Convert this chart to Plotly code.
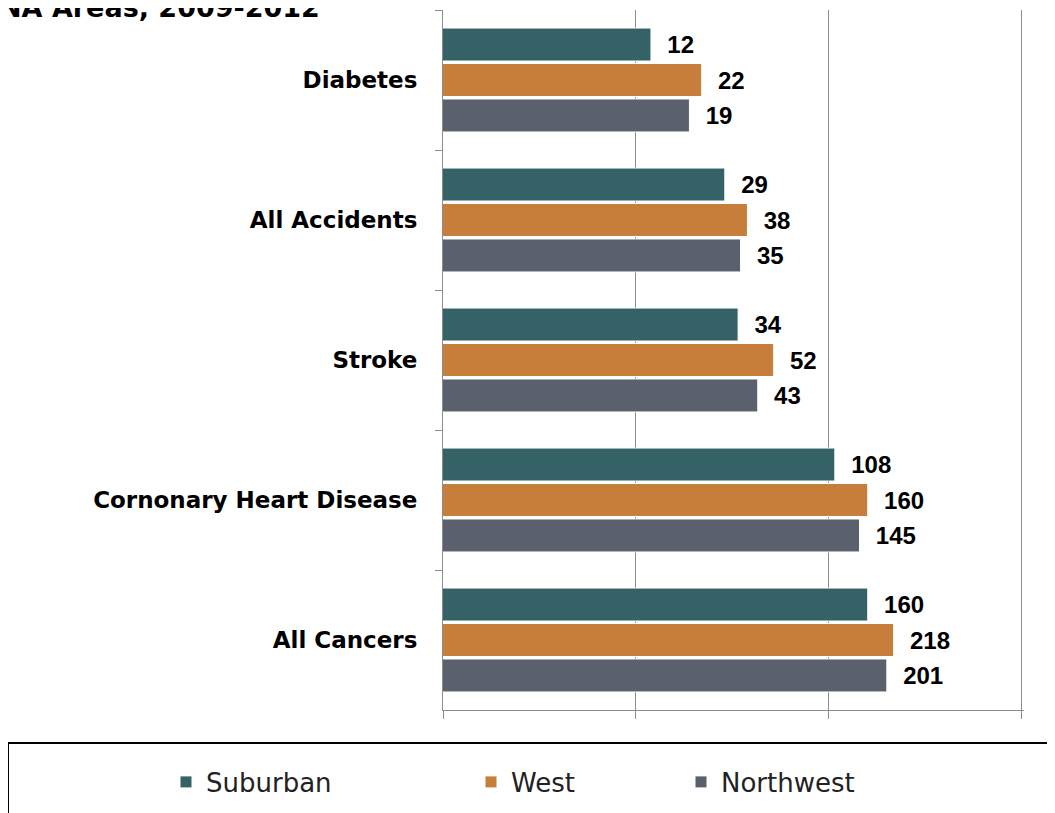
import plotly.graph_objects as go

# death causes, top to bottom as in the chart
causes = ["Diabetes", "All Accidents", "Stroke", "Cornonary Heart Disease", "All Cancers"]

suburban = [12, 29, 34, 108, 160]
west = [22, 38, 52, 160, 218]
northwest = [19, 35, 43, 145, 201]

series = [
    ("Suburban", suburban, "#346266", "legend"),
    ("West", west, "#c77e3a", "legend2"),
    ("Northwest", northwest, "#5a606c", "legend3"),
]

fig = go.Figure()
for name, vals, col, leg in series:
    fig.add_trace(go.Bar(
        y=causes, x=vals, name=name, orientation="h",
        marker=dict(color=col, line=dict(color="white", width=1)),
        text=vals, texttemplate="  %{x}", textposition="outside",
        textfont=dict(family="Liberation Sans Narrow, Liberation Sans, Arial", size=24, color="black", weight="bold"),
        cliponaxis=False, legend=leg,
    ))

# the page puts the plot 8px in from the top-left corner
W, H = 1047, 805
L, R, T, B = 435, 31, 2, 103
pw = W - L - R
ph = H - T - B

fig.update_layout(
    width=W, height=H,
    margin=dict(l=L, r=R, t=T, b=B),
    barmode="group", bargap=0.24, bargroupgap=0.07,
    plot_bgcolor="white", paper_bgcolor="white",
    font=dict(family="DejaVu Sans", color="black"),
    xaxis=dict(
        type="log", range=[0, 3.015], tickvals=[1, 10, 100, 1000],
        showticklabels=False, showgrid=True, gridcolor="#8c8c8c", gridwidth=1,
        showline=True, linecolor="#8c8c8c", linewidth=1,
        ticks="outside", ticklen=8, tickcolor="#8c8c8c", zeroline=False,
    ),
    yaxis=dict(
        autorange="reversed", showline=True, linecolor="#8c8c8c", linewidth=1,
        ticks="outside", ticklen=7, tickcolor="#8c8c8c", tickson="boundaries",
        ticklabelstandoff=20,
        tickfont=dict(family="DejaVu Sans", size=23, color="black", weight="bold"),
    ),
    showlegend=True,
)

leg_font = dict(family="DejaVu Sans", size=26, color="#222222")
for key, xpx in [("legend", 158), ("legend2", 463), ("legend3", 673)]:
    fig.update_layout({key: dict(
        orientation="h", xref="container", yref="container",
        x=xpx / W, y=1 - 774 / H, xanchor="left", yanchor="middle",
        font=leg_font, bgcolor="rgba(0,0,0,0)", itemwidth=30,
    )})

# legend frame, running off the page on the right and bottom
fig.add_shape(type="rect", xref="paper", yref="paper",
              x0=(0 - L) / pw, x1=1.2, y0=(ph + T - 735) / ph, y1=-0.3,
              line=dict(color="black", width=2), fillcolor="rgba(0,0,0,0)", layer="below")

# title, cut off at the top of the page
fig.add_annotation(text="<b>NA Areas, 2009-2012</b>", xref="paper", yref="paper",
                   x=(-11 - L) / pw, y=1, xanchor="left", yanchor="bottom", yshift=-15,
                   showarrow=False, font=dict(family="DejaVu Sans", size=27, color="black"))

fig.write_html("out.html")
